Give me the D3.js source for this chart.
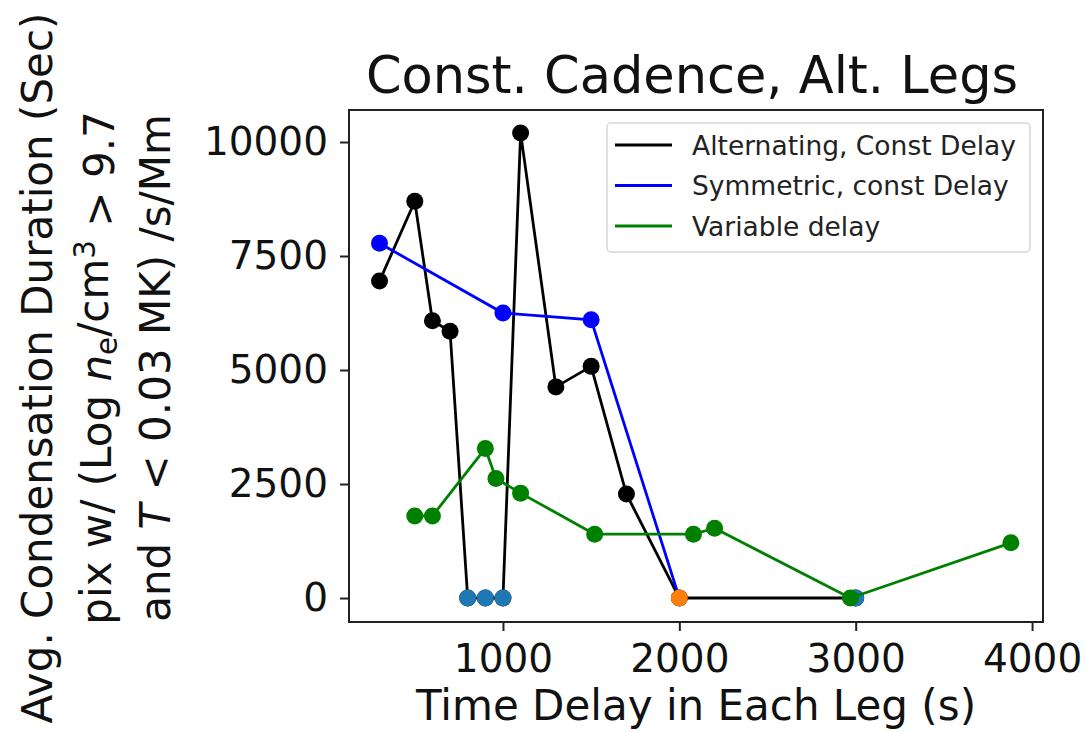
<!DOCTYPE html>
<html>
<head>
<meta charset="utf-8">
<script src="https://cdn.jsdelivr.net/npm/d3@7"></script>
<style>
  html, body { margin: 0; padding: 0; background: #fff; }
  svg { display: block; font-family: "DejaVu Sans", sans-serif; }
</style>
</head>
<body>
<svg id="chart" width="1086" height="732"></svg>
<script>
// ---- Data ----
const altX = [300, 500, 600, 700, 800, 900, 1000, 1100, 1300, 1500, 1700, 2000, 3000];
const altY = [6950, 8700, 6080, 5850, 0, 0, 0, 10200, 4630, 5080, 2280, 0, 0];

const symX = [300, 1000, 1500, 2000];
const symY = [7780, 6250, 6100, 0];

const varX = [500, 600, 900, 960, 1100, 1520, 2080, 2200, 2970, 3880];
const varY = [1800, 1800, 3280, 2620, 2300, 1400, 1400, 1530, 0, 1210];

const zeroAltX = [800, 900, 1000, 3000];
const zeroAltY = [0, 0, 0, 0];
const zeroSymX = [2000];
const zeroSymY = [0];

const xTicks = [1000, 2000, 3000, 4000];
const yTicks = [0, 2500, 5000, 7500, 10000];

const seriesNames = ["Alternating, Const Delay", "Symmetric, const Delay", "Variable delay"];
const seriesColors = ["#000000", "#0000ff", "#008000"];

const titleText = "Const. Cadence, Alt. Legs";
const xLabelText = "Time Delay in Each Leg (s)";

// ---- Layout ----
const svg = d3.select("#chart");
const L = 349, R = 1043, T = 110, B = 622;

const x = d3.scaleLinear().domain([127, 4062]).range([L, R]);
const y = d3.scaleLinear().domain([-526, 10702]).range([B, T]);

const tickFont = 39, labelFont = 42, titleFont = 51, legendFont = 26.5;

// axes
const xAxis = d3.axisBottom(x).tickValues(xTicks).tickFormat(d3.format("d")).tickSize(9).tickPadding(12);
const yAxis = d3.axisLeft(y).tickValues(yTicks).tickFormat(d3.format("d")).tickSize(9).tickPadding(12);

const gx = svg.append("g").attr("transform", `translate(0,${B})`).call(xAxis);
const gy = svg.append("g").attr("transform", `translate(${L},0)`).call(yAxis);
[gx, gy].forEach(g => {
  g.select(".domain").remove();
  g.selectAll(".tick line").attr("stroke", "#222").attr("stroke-width", 2);
  g.selectAll(".tick text").attr("fill", "#111").style("font-size", tickFont + "px")
    .style("font-family", "DejaVu Sans");
});
gx.selectAll(".tick text").attr("dy", "0.75em");

// data layers clipped to plot
const clip = svg.append("clipPath").attr("id", "clip").append("rect")
  .attr("x", L).attr("y", T).attr("width", R - L).attr("height", B - T);
const plot = svg.append("g").attr("clip-path", "url(#clip)");

const line = d3.line().x(d => x(d[0])).y(d => y(d[1]));
const zip = (a, b) => a.map((v, i) => [v, b[i]]);
const LW = 2.8, MR = 8.5;

function drawSeries(xs, ys, color, withLine, r) {
  const pts = zip(xs, ys);
  if (withLine) {
    plot.append("path").datum(pts).attr("d", line)
      .attr("fill", "none").attr("stroke", color).attr("stroke-width", LW)
      .attr("stroke-linejoin", "round");
  }
  plot.append("g").selectAll("circle").data(pts).join("circle")
    .attr("cx", d => x(d[0])).attr("cy", d => y(d[1])).attr("r", r)
    .attr("fill", color);
}

drawSeries(altX, altY, seriesColors[0], true, MR);
plot.append("path").datum(zip(symX, symY)).attr("d", line)
  .attr("fill", "none").attr("stroke", seriesColors[1]).attr("stroke-width", LW);
drawSeries(symX.slice(0, 3), symY.slice(0, 3), seriesColors[1], false, MR);
drawSeries(zeroAltX, zeroAltY, "#1f77b4", false, MR);
drawSeries(zeroSymX, zeroSymY, "#ff7f0e", false, MR);
drawSeries(varX, varY, seriesColors[2], true, MR);

// frame
svg.append("rect").attr("x", L).attr("y", T).attr("width", R - L).attr("height", B - T)
  .attr("fill", "none").attr("stroke", "#222").attr("stroke-width", 2);

// title
svg.append("text").attr("x", (L + R) / 2 - 4).attr("y", 93).attr("text-anchor", "middle")
  .style("font-size", titleFont + "px").attr("fill", "#111").text(titleText);

// x label
svg.append("text").attr("x", (L + R) / 2).attr("y", 720).attr("text-anchor", "middle")
  .style("font-size", labelFont + "px").attr("fill", "#111").text(xLabelText);

// y label (three lines, rotated)
const cy = (T + B) / 2 + 2;
svg.append("text").attr("transform", `translate(52,${cy}) rotate(-90)`)
  .attr("text-anchor", "middle").style("font-size", labelFont + "px").attr("fill", "#111")
  .text("Avg. Condensation Duration (Sec)");

const yl2 = svg.append("text").attr("transform", `translate(111,${cy}) rotate(-90)`)
  .attr("text-anchor", "middle").style("font-size", labelFont + "px").attr("fill", "#111");
yl2.append("tspan").text("pix w/ (Log ");
yl2.append("tspan").style("font-style", "italic").text("n");
yl2.append("tspan").attr("dy", "0.22em").style("font-size", (labelFont * 0.7) + "px").text("e");
yl2.append("tspan").attr("dy", "-0.22em").text("/cm");
yl2.append("tspan").attr("dy", "-0.45em").style("font-size", (labelFont * 0.7) + "px").text("3");
yl2.append("tspan").attr("dy", "0.45em").text(" > 9.7");

const yl3 = svg.append("text").attr("transform", `translate(170,${cy}) rotate(-90)`)
  .attr("text-anchor", "middle").style("font-size", labelFont + "px").attr("fill", "#111");
yl3.append("tspan").text("and ");
yl3.append("tspan").style("font-style", "italic").text("T");
yl3.append("tspan").text(" < 0.03 MK) /s/Mm");

// legend
const lg = svg.append("g");
lg.append("rect").attr("x", 607).attr("y", 123).attr("width", 423).attr("height", 129)
  .attr("rx", 4).attr("fill", "#fff").attr("fill-opacity", 0.8)
  .attr("stroke", "#d6d6d6").attr("stroke-width", 1.5);
seriesNames.forEach((name, i) => {
  const yy = 145 + i * 40.5;
  lg.append("line").attr("x1", 615).attr("x2", 672).attr("y1", yy).attr("y2", yy)
    .attr("stroke", seriesColors[i]).attr("stroke-width", LW);
  lg.append("text").attr("x", 692).attr("y", yy).attr("dy", "0.36em")
    .style("font-size", legendFont + "px").attr("fill", "#222").text(name);
});
</script>
</body>
</html>
